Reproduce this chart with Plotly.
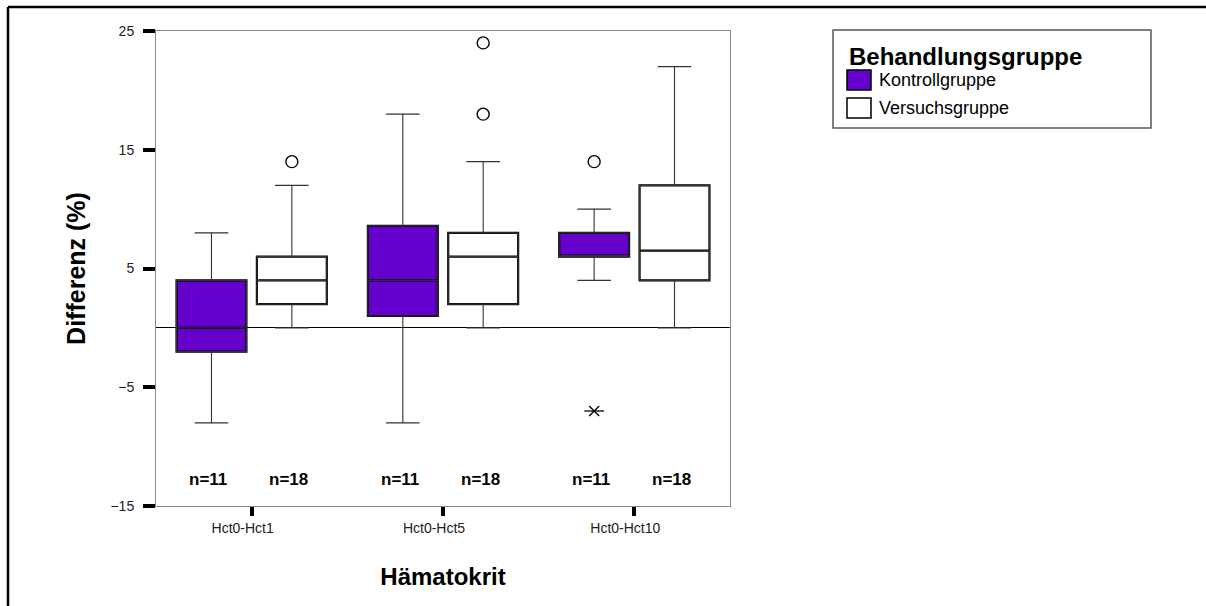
import plotly.graph_objects as go

# ---------------- data ----------------
categories = ["Hct0-Hct1", "Hct0-Hct5", "Hct0-Hct10"]
groups = ["Kontrollgruppe", "Versuchsgruppe"]

k_q1 = [-2, 1, 6]
k_median = [0, 4, 6]
k_q3 = [4, 8.6, 8]
k_lower = [-8, -8, 4]
k_upper = [8, 18, 10]

v_q1 = [2, 2, 4]
v_median = [4, 6, 6.5]
v_q3 = [6, 8, 12]
v_lower = [0, 0, 0]
v_upper = [12, 14, 22]

# outliers (category index, value)
k_out_cat = [2]
k_out_val = [14]
k_ext_cat = [2]
k_ext_val = [-7]
v_out_cat = [0, 1, 1]
v_out_val = [14, 18, 24]

k_n = [11, 11, 11]
v_n = [18, 18, 18]

y_ticks = [-15, -5, 5, 15, 25]

# ---------------- style ----------------
PURPLE = "#6600cc"
FONT = "Arial, Liberation Sans, sans-serif"
BOXGAP = 0.16
BOXGROUPGAP = 0.13
W, H = 1206, 606
ML, MR, MT, MB = 156, 476, 31, 100
PW, PH = W - ML - MR, H - MT - MB

def px_x(p):
    return (p - ML) / PW

def px_y(p):
    return (H - MB - p) / PH

pos = list(range(len(categories)))
offset = 0.25 * (1 - BOXGAP)

fig = go.Figure()

def add_box(name, q1, med, q3, lo, hi, fill, og):
    # thick box body
    fig.add_trace(go.Box(
        x=pos, q1=q1, median=med, q3=q3, lowerfence=q1, upperfence=q3,
        name=name, offsetgroup=og, fillcolor=fill,
        line=dict(color="#000000", width=2.2), whiskerwidth=0,
        boxpoints=False, showlegend=False, hoverinfo="skip"))
    # thin whiskers overlay
    fig.add_trace(go.Box(
        x=pos, q1=q1, median=med, q3=q3, lowerfence=lo, upperfence=hi,
        name=name, offsetgroup=og, fillcolor="rgba(0,0,0,0)",
        line=dict(color="#333333", width=1.1), whiskerwidth=0.48,
        boxpoints=False, showlegend=False))

add_box(groups[0], k_q1, k_median, k_q3, k_lower, k_upper, PURPLE, "K")
add_box(groups[1], v_q1, v_median, v_q3, v_lower, v_upper, "#ffffff", "V")

# outliers
fig.add_trace(go.Scatter(
    x=[c - offset for c in k_out_cat], y=k_out_val, mode="markers",
    marker=dict(symbol="circle-open", size=12, color="#000", line=dict(width=1.4)),
    showlegend=False))
fig.add_trace(go.Scatter(
    x=[c + offset for c in v_out_cat], y=v_out_val, mode="markers",
    marker=dict(symbol="circle-open", size=12, color="#000", line=dict(width=1.4)),
    showlegend=False))
# extreme values (asterisk: horizontal bar + x)
fig.add_trace(go.Scatter(
    x=[c - offset for c in k_ext_cat], y=k_ext_val, mode="markers",
    marker=dict(symbol="line-ew-open", size=14, color="#000", line=dict(width=1.3)),
    showlegend=False))
fig.add_trace(go.Scatter(
    x=[c - offset for c in k_ext_cat], y=k_ext_val, mode="markers",
    marker=dict(symbol="x-thin-open", size=10, color="#000", line=dict(width=1.3)),
    showlegend=False))

# n labels
for i in pos:
    fig.add_annotation(x=i - offset, y=-12.8, text=f"<b>n={k_n[i]}</b>", showarrow=False,
                       font=dict(size=17, family=FONT, color="#000"), yanchor="middle",
                       xshift=-3)
    fig.add_annotation(x=i + offset, y=-12.8, text=f"<b>n={v_n[i]}</b>", showarrow=False,
                       font=dict(size=17, family=FONT, color="#000"), yanchor="middle",
                       xshift=-3)

# custom legend
lx0, lx1 = px_x(833), px_x(1151)
ly0, ly1 = px_y(128), px_y(30)
fig.add_shape(type="rect", xref="paper", yref="paper", x0=lx0, x1=lx1, y0=ly0, y1=ly1,
              line=dict(color="#555555", width=1.5), fillcolor="rgba(0,0,0,0)")
fig.add_annotation(xref="paper", yref="paper", x=px_x(847), y=px_y(56),
                   text="<b>Behandlungsgruppe</b>", showarrow=False, xanchor="left",
                   yanchor="middle", font=dict(size=24, family=FONT, color="#000"))
for j, (g, col) in enumerate(zip(groups, [PURPLE, "#ffffff"])):
    top = 70 + j * 28
    fig.add_shape(type="rect", xref="paper", yref="paper",
                  x0=px_x(847), x1=px_x(871), y0=px_y(top + 20), y1=px_y(top),
                  line=dict(color="#000", width=1.5), fillcolor=col)
    fig.add_annotation(xref="paper", yref="paper", x=px_x(877), y=px_y(top + 10),
                       text=g, showarrow=False, xanchor="left", yanchor="middle",
                       font=dict(size=18, family=FONT, color="#000"))

# outer frame (top and left)
fig.add_shape(type="line", xref="paper", yref="paper", x0=px_x(8), x1=px_x(W),
              y0=px_y(7), y1=px_y(7), line=dict(color="#000", width=2.5))
fig.add_shape(type="line", xref="paper", yref="paper", x0=px_x(8), x1=px_x(8),
              y0=px_y(7), y1=px_y(H), line=dict(color="#000", width=2.5))

fig.update_layout(
    width=W, height=H, autosize=False,
    margin=dict(l=ML, r=MR, t=MT, b=MB, pad=0),
    paper_bgcolor="#ffffff", plot_bgcolor="#ffffff",
    boxmode="group", boxgap=BOXGAP, boxgroupgap=BOXGROUPGAP,
    showlegend=False,
    font=dict(family=FONT, color="#000"),
    xaxis=dict(
        range=[-0.5, 2.5], tickvals=pos, ticktext=categories,
        showgrid=False, zeroline=False,
        showline=True, mirror=True, linecolor="#888888", linewidth=1,
        ticks="outside", ticklen=9, tickwidth=4, tickcolor="#000",
        ticklabelshift=-9,
        tickfont=dict(size=14, family=FONT, color="#222"),
        title=dict(text="<b>Hämatokrit</b>", font=dict(size=24, family=FONT, color="#000"),
                   standoff=33),
    ),
    yaxis=dict(
        range=[-15, 25], tickvals=y_ticks,
        showgrid=False, zeroline=True, zerolinecolor="#000", zerolinewidth=1,
        showline=True, mirror=True, linecolor="#888888", linewidth=1,
        ticks="outside", ticklen=12, tickwidth=4, tickcolor="#000",
        ticklabelstandoff=6,
        tickfont=dict(size=14, family=FONT, color="#222"),
        title=dict(text="<b>Differenz (%)</b>", font=dict(size=25, family=FONT, color="#000"),
                   standoff=17),
    ),
)

fig.write_html("out.html", config={"displayModeBar": False})
